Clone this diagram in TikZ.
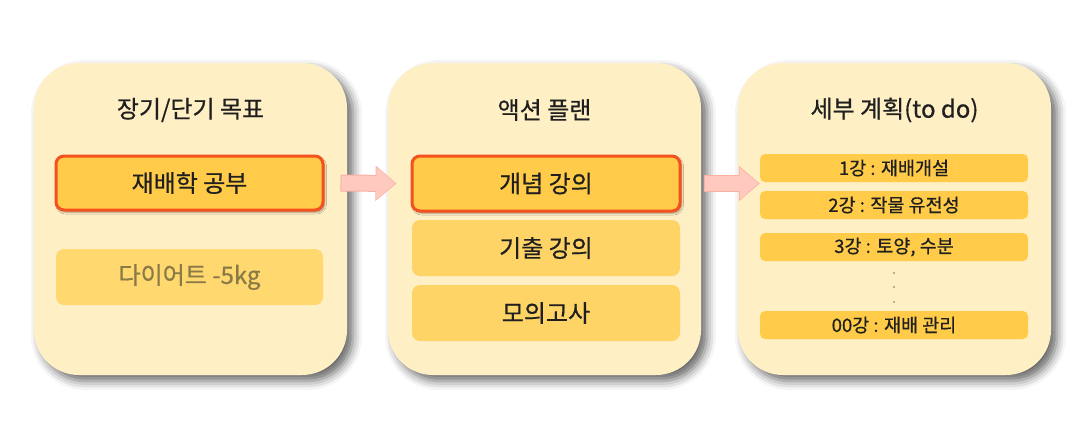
\documentclass[tikz,border=0pt]{standalone}
\usepackage{fontspec}
\newfontfamily\kofont[FakeBold=0.6]{Noto Sans CJK KR}
\usetikzlibrary{calc,arrows.meta,shadows,shadows.blur}
\definecolor{panelcream}{HTML}{FFEFC5}
\definecolor{boxgold}{HTML}{FFCB48}
\definecolor{boxlight}{HTML}{FFD466}
\definecolor{boxpale}{HTML}{FFD870}
\definecolor{rimred}{HTML}{F4511E}
\definecolor{inkdark}{HTML}{1F1F1F}
\definecolor{inkdim}{HTML}{8A7A45}
\definecolor{arrowpink}{HTML}{FFC9BF}
\definecolor{arrowrim}{HTML}{F6B0A4}
\newcommand{\drawPanel}[3]{%
    \node[panel] (#1) at (#2,219) {};
    \node[titletext] (#1title) at (#2,110) {#3};
}
\newcommand{\drawFatArrow}[2]{%
    \draw[arrowrim, line width=17pt, -{Triangle[width=34pt,length=21pt]}] (#1) -- (#2);
    \draw[arrowpink, line width=15pt, -{Triangle[width=31pt,length=19pt]}]
        ($(#1)+(1,0)$) -- ($(#2)+(-1.2,0)$);
}

\begin{document}
\begin{tikzpicture}[x=1pt,y=-1pt,
    every node/.style={font=\kofont\fontsize{24}{28}\selectfont, text=inkdark},
    panel/.style={fill=panelcream, rounded corners=45pt, inner sep=0pt,
        minimum width=313pt, minimum height=312pt,
        blur shadow={shadow xshift=6pt, shadow yshift=-6pt, shadow blur radius=9pt, shadow opacity=60}},
    titletext/.style={inner sep=0pt},
    mainbox/.style={fill=boxgold, draw=rimred, line width=3pt, rounded corners=8pt,
        minimum width=267pt, minimum height=54pt, inner sep=0pt,
        blur shadow={shadow xshift=1.5pt, shadow yshift=-2pt, shadow blur radius=2pt, shadow opacity=45}},
    sidebox/.style={fill=boxlight, rounded corners=8pt,
        minimum width=268pt, minimum height=56pt, inner sep=0pt},
    itembox/.style={fill=boxgold, rounded corners=5pt, minimum width=268pt, minimum height=28pt,
        inner sep=0pt, font=\kofont\fontsize{18.5}{22}\selectfont}]
\useasboundingbox (0,0) rectangle (1080,437);

% panels
\drawPanel{goalpanel}{190.5}{장기/단기 목표}
\drawPanel{planpanel}{544.5}{액션 플랜}
\drawPanel{todopanel}{894.5}{세부 계획(to do)}

% goals
\node[mainbox] (goal1) at (189.5,183) {재배학 공부};
\node[sidebox, fill=boxpale, minimum width=267pt, text=inkdim] (goal2) at (189.5,277) {다이어트 -5kg};

% action plan
\node[mainbox, minimum width=268pt, minimum height=55pt] (plan1) at (546,183.5) {개념 강의};
\node[sidebox] (plan2) at (546,248) {기출 강의};
\node[sidebox] (plan3) at (546,313) {모의고사};

% to do
\node[itembox] (todo1) at (894,168) {1강 : 재배개설};
\node[itembox] (todo2) at (894,205) {2강 : 작물 유전성};
\node[itembox] (todo3) at (894,247) {3강 : 토양, 수분};
\foreach \y [count=\k] in {273,287,302} {
    \fill[black!55] (894,\y) circle (0.8pt) coordinate (dot\k);
}
\node[itembox] (todo4) at (894,325) {00강 : 재배 관리};

% arrows
\coordinate (a1tail) at ($(goal1.east)+(16,0)$);
\coordinate (a1tip) at ($(plan1.west)+(-14,0)$);
\coordinate (a2tail) at ($(plan1.east)+(22,0)$);
\coordinate (a2tip) at (todo1.west |- plan1.east);
\drawFatArrow{a1tail}{a1tip}
\drawFatArrow{a2tail}{a2tip}
\end{tikzpicture}
\end{document}
